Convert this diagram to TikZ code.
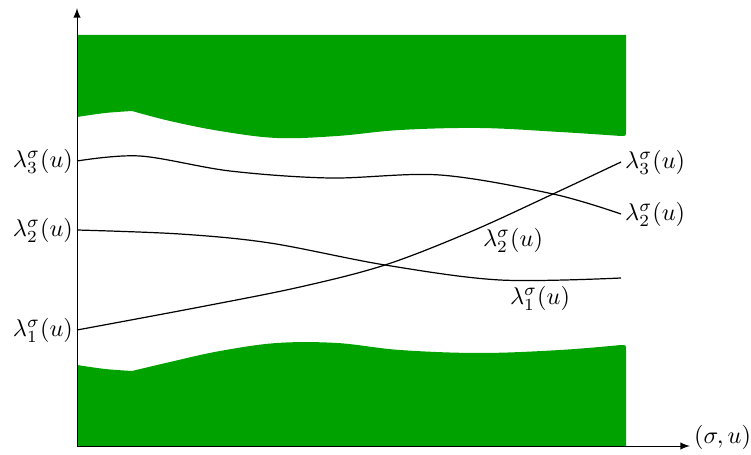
\documentclass[tikz,border=0pt]{standalone}
\usepackage{amsmath}
\usepackage{amssymb}
\usepackage{tikz}
\definecolor{bandgreen}{RGB}{0,162,0}

\begin{document}
\begin{tikzpicture}[x=0.0145cm, y=-0.0145cm,
  band/.style={fill=bandgreen},
  curve/.style={black, line width=0.5pt},
  lbl/.style={inner sep=1.5pt}]
\useasboundingbox (0,0) rectangle (751,455);

% Axes ends and curve ends
\coordinate (O) at (77,446);
\coordinate (ytop) at (77,8);
\coordinate (xend) at (690,446);
\coordinate (a3) at (77,161);
\coordinate (a2) at (77,230);
\coordinate (a1) at (77,330);
\coordinate (b3) at (621,162);
\coordinate (b2) at (621,214);
\coordinate (b1) at (621,278);

% Upper band
\fill[band] (77,35) -- (626,35) -- (626,131) .. controls (626,136) .. (621,136)
  -- plot[smooth, tension=0.6] coordinates {(621,136) (560,132) (480,128) (400,130) (337,136) (277,138) (220,131) (170,121) (132,111)}
  -- plot[smooth] coordinates {(132,111) (105,113) (77,117)} -- cycle;

% Lower band
\fill[band] (O) -- (77,365)
  -- plot[smooth] coordinates {(77,365) (105,369) (132,371)}
  -- plot[smooth, tension=0.6] coordinates {(132,371) (170,362) (220,351) (277,343) (337,343) (400,350) (480,353) (560,350) (621,345)}
  .. controls (626,345) .. (626,350) -- (626,446) -- cycle;

% Axes
\draw[-latex] (O) -- (ytop);
\draw[-latex] (O) -- (xend);
\node[right, lbl, yshift=3.5pt] (xlab) at (xend) {$(\sigma,u)$};

% Eigenvalue curves
\draw[curve] plot[smooth, tension=0.55] coordinates {(a3) (140,156) (230,171) (330,178) (440,175) (553,194) (b2)};
\draw[curve] plot[smooth, tension=0.55] coordinates {(a2) (180,234) (270,243) (385,265) (500,280) (b1)};
\draw[curve] plot[smooth, tension=0.55] coordinates {(a1) (200,307) (300,287) (385,265) (470,232) (553,194) (b3)};

% Labels
\node[left, lbl] (l3) at (a3) {$\lambda^\sigma_3(u)$};
\node[left, lbl] (l2) at (a2) {$\lambda^\sigma_2(u)$};
\node[left, lbl] (l1) at (a1) {$\lambda^\sigma_1(u)$};
\node[right, lbl] (r3) at (b3) {$\lambda^\sigma_3(u)$};
\node[right, lbl] (r2) at (b2) {$\lambda^\sigma_2(u)$};
\node (m2) at (513,240) {$\lambda^\sigma_2(u)$};
\node (m1) at (540,298) {$\lambda^\sigma_1(u)$};

\end{tikzpicture}
\end{document}
